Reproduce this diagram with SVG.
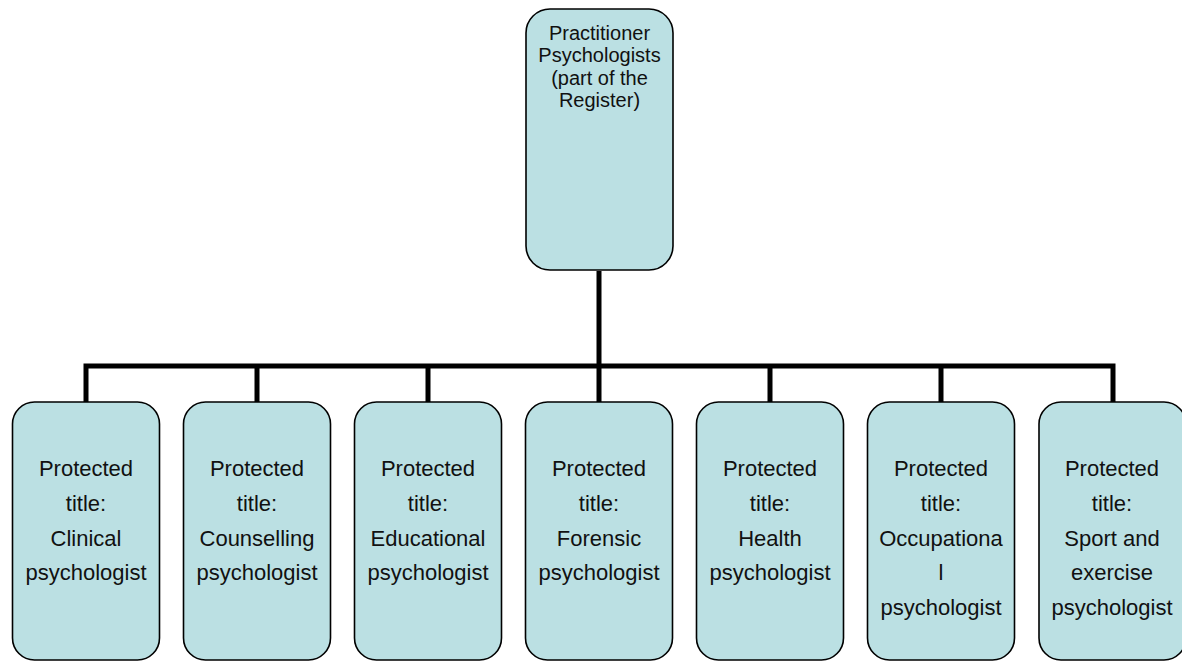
<svg xmlns="http://www.w3.org/2000/svg" width="1182" height="662" viewBox="0 0 1182 662">
<style>
.box{fill:#BBE0E3;stroke:#000;stroke-width:1.6}
.t{font-family:"Liberation Sans",Arial,sans-serif;fill:#111;text-anchor:middle}
.top{font-size:20px}
.bt{font-size:22px}
.conn{fill:none;stroke:#000;stroke-width:5;stroke-linejoin:miter;stroke-linecap:butt}
</style>
<rect width="1182" height="662" fill="#fff"/>
<g id="connectors">
<path class="conn" d="M599,271 V366"/>
<path class="conn" d="M86,402 V366 H1113 V402"/>
<path class="conn" d="M257,366 V402 M428,366 V402 M599,366 V402 M770,366 V402 M941,366 V402"/>
</g>
<g id="n0">
<rect class="box" x="526" y="9" width="147" height="261" rx="24"/>
<text class="t top"><tspan x="599.5" y="39.5">Practitioner</tspan><tspan x="599.5" y="62">Psychologists</tspan><tspan x="599.5" y="84.5">(part of the</tspan><tspan x="599.5" y="107">Register)</tspan></text>
</g>
<g id="n1">
<rect class="box" x="12.5" y="402" width="147" height="258" rx="22"/>
<text class="t bt"><tspan x="86" y="476">Protected</tspan><tspan x="86" y="511">title:</tspan><tspan x="86" y="546">Clinical</tspan><tspan x="86" y="580">psychologist</tspan></text>
</g>
<g id="n2">
<rect class="box" x="183.5" y="402" width="147" height="258" rx="22"/>
<text class="t bt"><tspan x="257" y="476">Protected</tspan><tspan x="257" y="511">title:</tspan><tspan x="257" y="546">Counselling</tspan><tspan x="257" y="580">psychologist</tspan></text>
</g>
<g id="n3">
<rect class="box" x="354.5" y="402" width="147" height="258" rx="22"/>
<text class="t bt"><tspan x="428" y="476">Protected</tspan><tspan x="428" y="511">title:</tspan><tspan x="428" y="546">Educational</tspan><tspan x="428" y="580">psychologist</tspan></text>
</g>
<g id="n4">
<rect class="box" x="525.5" y="402" width="147" height="258" rx="22"/>
<text class="t bt"><tspan x="599" y="476">Protected</tspan><tspan x="599" y="511">title:</tspan><tspan x="599" y="546">Forensic</tspan><tspan x="599" y="580">psychologist</tspan></text>
</g>
<g id="n5">
<rect class="box" x="696.5" y="402" width="147" height="258" rx="22"/>
<text class="t bt"><tspan x="770" y="476">Protected</tspan><tspan x="770" y="511">title:</tspan><tspan x="770" y="546">Health</tspan><tspan x="770" y="580">psychologist</tspan></text>
</g>
<g id="n6">
<rect class="box" x="867.5" y="402" width="147" height="258" rx="22"/>
<text class="t bt"><tspan x="941" y="476">Protected</tspan><tspan x="941" y="511">title:</tspan><tspan x="941" y="546">Occupationa</tspan><tspan x="941" y="580">l</tspan><tspan x="941" y="615">psychologist</tspan></text>
</g>
<g id="n7">
<rect class="box" x="1039" y="402" width="147" height="258" rx="22"/>
<text class="t bt"><tspan x="1112" y="476">Protected</tspan><tspan x="1112" y="511">title:</tspan><tspan x="1112" y="546">Sport and</tspan><tspan x="1112" y="580">exercise</tspan><tspan x="1112" y="615">psychologist</tspan></text>
</g>
</svg>
